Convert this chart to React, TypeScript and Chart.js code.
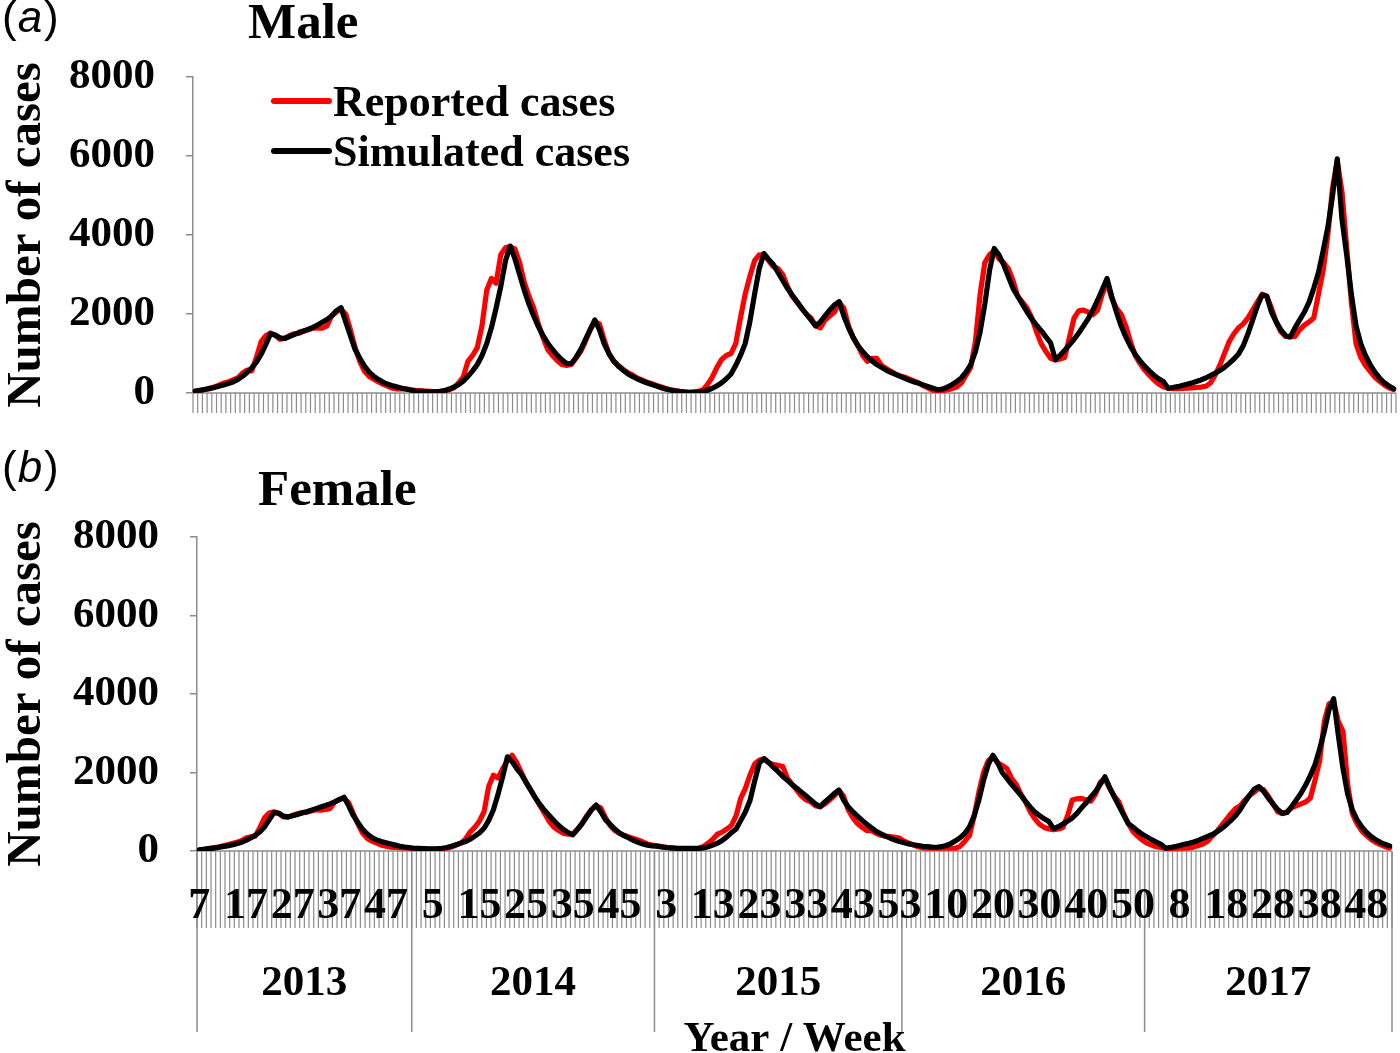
import { useEffect, useRef } from "react";
import { Chart, registerables } from "chart.js";

Chart.register(...registerables);

const SERIF = '"Liberation Serif", "Times New Roman", serif';
const SANS = '"Liberation Sans", Arial, sans-serif';
const AXIS_GREY = "#8c8c8c";
const LINE_WIDTH = 5.2;

// Year / week categories
const years = ["2013", "2014", "2015", "2016", "2017"];
const yearFirstWeek = [7, 1, 1, 1, 1];
const yearLastWeek = [52, 52, 53, 52, 53];
const weekLabelStep = 10;
const yTicks = [0, 2000, 4000, 6000, 8000];

// (a) Male, weekly cases
const maleReported = [
  // 2013
  50, 60, 90, 120, 150, 200, 250, 280, 330, 380, 500, 580, 560, 900, 1300, 1450, 1520, 1460, 1360, 1380,
  1450, 1500, 1510, 1560, 1600, 1640, 1650, 1640, 1700, 1950, 2050, 2120, 2000, 1600, 1150, 800, 550, 420, 350, 280,
  220, 170, 120, 100, 110, 100,
  // 2014
  80, 60, 60, 50, 40, 30, 20, 40, 80, 130, 250, 400, 800, 950, 1150, 1700, 2600, 2900, 2780, 3500,
  3680, 3700, 3650, 3300, 2800, 2450, 2150, 1750, 1400, 1100, 950, 820, 720, 700, 720, 880, 1050, 1300, 1600, 1800,
  1750, 1350, 1000, 800, 700, 600, 520, 460, 380, 330, 280, 240,
  // 2015
  200, 160, 120, 90, 60, 40, 30, 20, 30, 40, 80, 220, 400, 650, 850, 950, 1000, 1250, 1900, 2500,
  2950, 3350, 3500, 3500, 3350, 3200, 3150, 3000, 2700, 2450, 2300, 2150, 2000, 1900, 1700, 1650, 1850, 1950, 2050, 2300,
  2150, 1700, 1400, 1200, 950, 800, 880, 880, 700, 620, 550, 480, 430,
  // 2016
  400, 350, 300, 250, 180, 120, 70, 50, 60, 80, 110, 150, 250, 450, 650, 1300, 2500, 3300, 3500, 3600,
  3400, 3300, 3150, 2850, 2450, 2300, 2150, 1900, 1550, 1250, 1050, 880, 830, 860, 900, 1400, 1900, 2080, 2100, 2050,
  1980, 2100, 2500, 2800, 2400, 2150, 2000, 1700, 1300, 950, 750, 580,
  // 2017
  450, 330, 230, 160, 120, 110, 110, 115, 120, 130, 140, 150, 170, 250, 450, 700, 1000, 1300, 1500, 1650,
  1750, 1900, 2100, 2300, 2500, 2450, 2150, 1800, 1550, 1430, 1420, 1430, 1600, 1720, 1800, 1900, 2500, 3100, 4000, 5200,
  5880, 5100, 3700, 2300, 1250, 900, 700, 550, 400, 300, 200, 130, 90,
];

const maleSimulated = [
  // 2013
  50, 70, 90, 110, 140, 170, 200, 240, 280, 340, 420, 520, 640, 780, 980, 1230, 1500, 1470, 1400, 1380,
  1430, 1480, 1530, 1570, 1610, 1660, 1720, 1790, 1860, 1950, 2080, 2160, 1800, 1450, 1100, 880, 680, 530, 420, 340,
  270, 220, 180, 150, 120, 95,
  // 2014
  70, 50, 40, 30, 30, 30, 40, 60, 100, 150, 210, 300, 420, 560, 720, 950, 1250, 1650, 2150, 2700,
  3350, 3720, 3400, 3000, 2600, 2250, 1950, 1680, 1450, 1260, 1100, 960, 840, 750, 740, 900, 1100, 1350, 1600, 1850,
  1600, 1250, 1000, 820, 680, 580, 490, 420, 360, 310, 260, 220,
  // 2015
  180, 140, 100, 75, 55, 40, 25, 10, 10, 20, 40, 70, 120, 180, 260, 360, 480, 700, 950, 1250,
  1800, 2500, 3150, 3530, 3380, 3250, 3050, 2850, 2650, 2480, 2320, 2150, 2000, 1850, 1700, 1800, 1950, 2100, 2230, 2310,
  1950, 1650, 1400, 1200, 1050, 920, 810, 720, 650, 580, 520, 470, 420,
  // 2016
  370, 320, 280, 245, 200, 160, 120, 80, 100, 150, 210, 290, 380, 530, 720, 1050, 1550, 2250, 3100, 3660,
  3500, 3250, 2950, 2650, 2450, 2250, 2050, 1870, 1720, 1580, 1420, 1270, 850, 950, 1080, 1220, 1360, 1520, 1700, 1880,
  2100, 2350, 2620, 2900, 2450, 2050, 1700, 1420, 1180, 980, 820, 680,
  // 2017
  560, 450, 360, 290, 120, 140, 160, 190, 220, 250, 290, 330, 380, 440, 500, 570, 650, 750, 860, 990,
  1200, 1500, 1850, 2200, 2480, 2450, 2050, 1800, 1600, 1450, 1420, 1650, 1850, 2050, 2300, 2650, 3050, 3600, 4200, 5000,
  5930, 4400, 3500, 2500, 1700, 1250, 950, 720, 530, 380, 260, 180, 110,
];

// (b) Female, weekly cases
const femaleReported = [
  // 2013
  30, 40, 60, 80, 100, 130, 160, 190, 220, 260, 330, 360, 380, 600, 850, 970, 1000, 960, 870, 860,
  910, 950, 980, 990, 1020, 1050, 1040, 1060, 1080, 1250, 1320, 1340, 1230, 950, 680, 450, 320, 250, 200, 150,
  120, 100, 90, 80, 80, 70,
  // 2014
  60, 50, 60, 50, 40, 40, 50, 70, 100, 150, 200, 300, 480, 600, 760, 1000, 1650, 1930, 1860, 2100,
  2300, 2440, 2250, 2000, 1750, 1550, 1350, 1150, 950, 750, 600, 520, 450, 430, 430, 550, 700, 900, 1050, 1150,
  1100, 850, 650, 520, 450, 400, 360, 320, 280, 230, 180, 150,
  // 2015
  130, 110, 95, 80, 70, 60, 50, 45, 50, 70, 120, 200, 300, 430, 480, 560, 650, 900, 1350, 1600,
  1950, 2220, 2320, 2350, 2250, 2200, 2180, 2150, 1850, 1700, 1550, 1400, 1300, 1250, 1150, 1130, 1200, 1300, 1400, 1550,
  1400, 1050, 850, 700, 600, 520, 520, 450, 400, 380, 370, 350, 330,
  // 2016
  250, 200, 150, 110, 80, 70, 70, 70, 70, 70, 70, 70, 120, 250, 400, 900, 1500, 2000, 2300, 2400,
  2250, 2180, 2100, 1850, 1700, 1450, 1250, 1000, 820, 680, 600, 560, 540, 560, 600, 900, 1300, 1330, 1340, 1300,
  1270, 1450, 1750, 1850, 1600, 1400, 1250, 950, 700, 500, 380, 280,
  // 2017
  200, 150, 110, 90, 70, 65, 65, 70, 70, 80, 100, 140, 180, 250, 380, 500, 650, 800, 950, 1080,
  1150, 1300, 1420, 1500, 1600, 1560, 1400, 1200, 1000, 950, 1000, 1100, 1150, 1200, 1250, 1350, 1800, 2300, 3300, 3750,
  3800, 3300, 3050, 1700, 950, 700, 520, 400, 300, 220, 160, 110, 80,
];

const femaleSimulated = [
  // 2013
  30, 45, 60, 75, 90, 110, 130, 155, 185, 220, 270, 330, 400, 490, 620, 800, 980, 960, 890, 870,
  900, 930, 970, 1000, 1040, 1080, 1120, 1160, 1200, 1250, 1310, 1370, 1150, 900, 720, 550, 430, 340, 280, 240,
  210, 180, 150, 120, 100, 85,
  // 2014
  70, 65, 60, 55, 55, 60, 70, 90, 120, 160, 200, 240, 300, 380, 460, 580, 780, 1050, 1450, 1900,
  2400, 2280, 2100, 1950, 1750, 1550, 1350, 1180, 1030, 900, 770, 650, 550, 470, 410, 550, 700, 870, 1050, 1170,
  1000, 800, 680, 560, 460, 390, 330, 270, 220, 180, 150, 130,
  // 2015
  125, 105, 90, 80, 72, 68, 65, 65, 65, 68, 80, 110, 150, 200, 270, 360, 470, 560, 780, 1000,
  1300, 1800, 2250, 2350, 2250, 2130, 2020, 1900, 1800, 1690, 1600, 1500, 1400, 1300, 1200, 1130, 1250, 1350, 1460, 1550,
  1300, 1130, 1000, 890, 780, 680, 590, 500, 440, 380, 330, 280, 240,
  // 2016
  210, 180, 160, 140, 120, 110, 100, 95, 110, 140, 190, 260, 340, 450, 620, 900, 1300, 1800, 2200, 2440,
  2250, 2000, 1850, 1700, 1560, 1420, 1260, 1120, 990, 900, 820, 750, 570, 620, 690, 760, 840, 960, 1100, 1230,
  1380, 1520, 1700, 1890, 1620, 1380, 1150, 920, 700, 610, 510, 430,
  // 2017
  360, 290, 230, 170, 70, 90, 110, 140, 170, 195, 230, 270, 320, 370, 420, 490, 570, 670, 780, 900,
  1060, 1250, 1420, 1580, 1640, 1520, 1350, 1200, 1060, 960, 980, 1130, 1300, 1470, 1680, 1920, 2200, 2600, 3050, 3600,
  3880, 2950, 2100, 1450, 1050, 800, 620, 480, 370, 290, 220, 170, 130,
];

// build the category list from the year/week arrays
const categories: string[] = [];
const weekNumbers: number[] = [];
const yearStartIndex: number[] = [];
years.forEach((y, k) => {
  yearStartIndex.push(categories.length);
  for (let w = yearFirstWeek[k]; w <= yearLastWeek[k]; w++) {
    categories.push(`${y}-W${w}`);
    weekNumbers.push(w);
  }
});
yearStartIndex.push(categories.length);

interface PanelSpec {
  top: number;
  height: number;
  padTop: number;
  padRight: number;
  padBottom: number;
  axisWidth: number;
  letter: string;
  letterBaseline: number;
  title: string;
  titleX: number;
  titleBaseline: number;
  tickLength: number;
  legend: boolean;
  weekAxis: boolean;
}

const malePanel: PanelSpec = {
  top: 0, height: 440, padTop: 77, padRight: 4, padBottom: 47, axisWidth: 193,
  letter: "a", letterBaseline: 32, title: "Male", titleX: 248, titleBaseline: 38,
  tickLength: 20, legend: true, weekAxis: false,
};

const femalePanel: PanelSpec = {
  top: 440, height: 613, padTop: 97, padRight: 8, padBottom: 202, axisWidth: 197,
  letter: "b", letterBaseline: 42, title: "Female", titleX: 258, titleBaseline: 65,
  tickLength: 77, legend: false, weekAxis: true,
};

function Panel({ spec, reported, simulated }: { spec: PanelSpec; reported: number[]; simulated: number[] }) {
  const canvasRef = useRef<HTMLCanvasElement>(null);

  useEffect(() => {
    if (!canvasRef.current) return;

    const decor = {
      id: "decor",
      beforeDatasetsDraw(chart: any) {
        const { ctx, chartArea } = chart;
        const xs = chart.scales.x;
        const n = categories.length;
        ctx.save();
        ctx.strokeStyle = AXIS_GREY;
        ctx.lineWidth = 1.2;
        ctx.beginPath();
        for (let k = 0; k <= n; k++) {
          const x = xs.getPixelForValue(k - 0.5);
          ctx.moveTo(x, chartArea.bottom);
          ctx.lineTo(x, chartArea.bottom + spec.tickLength);
        }
        ctx.stroke();
        ctx.lineWidth = 1.5;
        ctx.beginPath();
        ctx.moveTo(chartArea.left, chartArea.bottom);
        ctx.lineTo(chartArea.right, chartArea.bottom);
        ctx.stroke();
        if (spec.weekAxis) {
          ctx.beginPath();
          yearStartIndex.forEach((idx) => {
            const x = xs.getPixelForValue(idx - 0.5);
            ctx.moveTo(x, chartArea.bottom);
            ctx.lineTo(x, chartArea.bottom + 181);
          });
          ctx.stroke();
        }
        ctx.restore();
      },
      afterDraw(chart: any) {
        const { ctx, chartArea } = chart;
        const xs = chart.scales.x;
        ctx.save();
        ctx.fillStyle = "#000";
        ctx.textBaseline = "alphabetic";

        // panel letter "(a)" / "(b)"
        ctx.textAlign = "left";
        let lx = 2;
        ctx.font = `44px ${SANS}`;
        ctx.fillText("(", lx, spec.letterBaseline);
        lx += ctx.measureText("(").width + 1;
        ctx.font = `italic 44px ${SANS}`;
        ctx.fillText(spec.letter, lx, spec.letterBaseline);
        lx += ctx.measureText(spec.letter).width + 2;
        ctx.font = `44px ${SANS}`;
        ctx.fillText(")", lx, spec.letterBaseline);

        // panel title
        ctx.font = `bold 51px ${SERIF}`;
        ctx.fillText(spec.title, spec.titleX, spec.titleBaseline);

        if (spec.legend) {
          const items = [
            { text: "Reported cases", color: "#ff0000", y: 101 },
            { text: "Simulated cases", color: "#000000", y: 151 },
          ];
          ctx.font = `bold 44px ${SERIF}`;
          items.forEach((it) => {
            ctx.strokeStyle = it.color;
            ctx.lineWidth = 6;
            ctx.lineCap = "round";
            ctx.beginPath();
            ctx.moveTo(274, it.y);
            ctx.lineTo(329, it.y);
            ctx.stroke();
            ctx.fillStyle = "#000";
            ctx.fillText(it.text, 333, it.y + 15);
          });
        }

        if (spec.weekAxis) {
          ctx.textAlign = "center";
          ctx.font = `bold 44px ${SERIF}`;
          for (let i = 0; i < categories.length; i += weekLabelStep) {
            ctx.fillText(String(weekNumbers[i]), xs.getPixelForValue(i), chartArea.bottom + 67);
          }
          ctx.font = `bold 43px ${SERIF}`;
          years.forEach((y, k) => {
            const x0 = xs.getPixelForValue(yearStartIndex[k] - 0.5);
            const x1 = xs.getPixelForValue(yearStartIndex[k + 1] - 0.5);
            ctx.fillText(y, (x0 + x1) / 2, chartArea.bottom + 144);
          });
          ctx.fillText("Year / Week", (chartArea.left + chartArea.right) / 2, chartArea.bottom + 200);
        }
        ctx.restore();
      },
    };

    const chart = new Chart(canvasRef.current, {
      type: "line",
      data: {
        labels: categories,
        datasets: [
          {
            label: "Simulated cases",
            data: simulated,
            borderColor: "#000000",
            borderWidth: LINE_WIDTH,
            pointRadius: 0,
            tension: 0,
            borderJoinStyle: "round",
            borderCapStyle: "round",
          },
          {
            label: "Reported cases",
            data: reported,
            borderColor: "#ff0000",
            borderWidth: LINE_WIDTH,
            pointRadius: 0,
            tension: 0,
            borderJoinStyle: "round",
            borderCapStyle: "round",
          },
        ],
      },
      options: {
        animation: false,
        responsive: true,
        maintainAspectRatio: false,
        layout: { padding: { top: spec.padTop, right: spec.padRight, bottom: spec.padBottom, left: 0 } },
        plugins: { legend: { display: false }, tooltip: { enabled: false } },
        scales: {
          x: { type: "category", offset: true, display: false },
          y: {
            min: yTicks[0],
            max: yTicks[yTicks.length - 1],
            afterBuildTicks: (scale: any) => {
              scale.ticks = yTicks.map((v) => ({ value: v }));
            },
            afterFit: (scale: any) => {
              scale.width = spec.axisWidth;
              scale.paddingTop = 0;
              scale.paddingBottom = 0;
            },
            ticks: {
              color: "#000",
              padding: 31,
              font: { family: SERIF, size: 43, weight: "bold" },
              callback: (v: any) => String(v),
            },
            grid: { drawOnChartArea: false, drawTicks: true, tickLength: 7, color: AXIS_GREY, lineWidth: 1.5 },
            border: { display: true, color: AXIS_GREY, width: 1.5 },
            title: {
              display: true,
              text: "Number of cases",
              color: "#000",
              padding: 0,
              font: { family: SERIF, size: 49, weight: "bold", lineHeight: 1.1 },
            },
          },
        },
      },
      plugins: [decor],
    } as any);

    return () => {
      chart.destroy();
    };
  }, [spec, reported, simulated]);

  return (
    <div style={{ position: "absolute", left: 0, top: spec.top, width: 1400, height: spec.height }}>
      <canvas ref={canvasRef}></canvas>
    </div>
  );
}

export default function App() {
  return (
    <div style={{ position: "absolute", left: 0, top: 0, width: 1400, height: 1053, background: "#fff" }}>
      <Panel spec={malePanel} reported={maleReported} simulated={maleSimulated} />
      <Panel spec={femalePanel} reported={femaleReported} simulated={femaleSimulated} />
    </div>
  );
}
